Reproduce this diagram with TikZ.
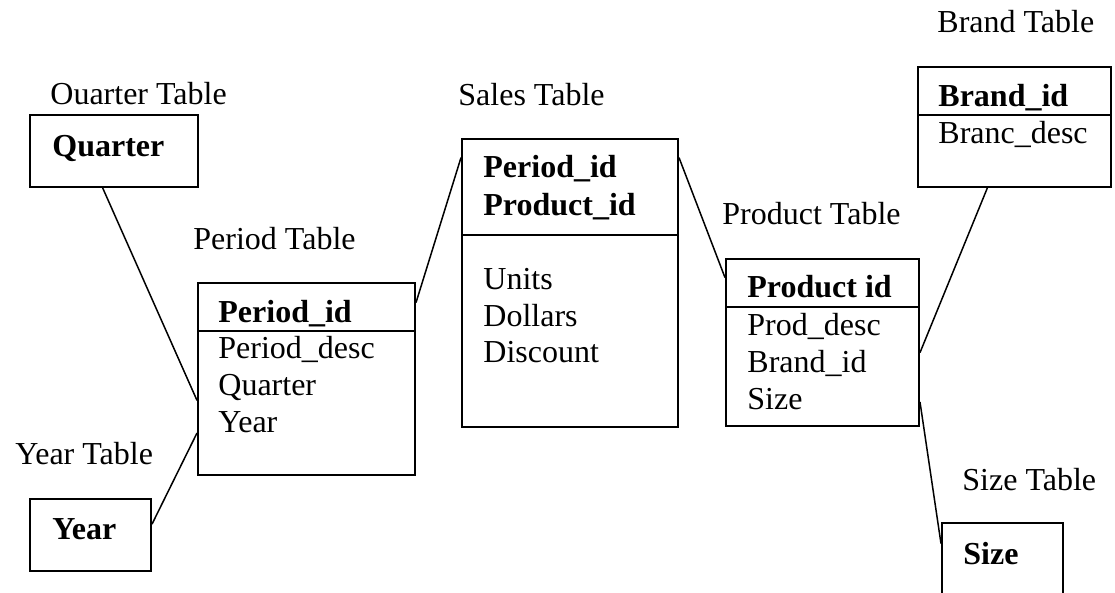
\documentclass[tikz,border=0pt]{standalone}
\usepackage{fontspec}
\setmainfont{Liberation Serif}
\tikzset{
	tbl/.style={draw, line width=1pt, inner sep=0pt},
	row/.style={anchor=west, inner sep=0pt, text height=10pt, text depth=2pt, font=\fontsize{16}{18}\selectfont},
	keyrow/.style={row, font=\fontsize{16}{18}\selectfont\bfseries},
	link/.style={line width=0.75pt}
}
\begin{document}
\begin{tikzpicture}[x=0.5pt, y=-0.5pt]
		\useasboundingbox (0, 0) rectangle (1115, 593);
		\clip (0, 0) rectangle (1115, 593);
		
		\node[tbl, minimum width=84pt, minimum height=36pt] (quarter) at (114, 151) {};
		\node[tbl, minimum width=108.5pt, minimum height=96pt] (period) at (306.5, 379) {};
		\node[tbl, minimum width=108pt, minimum height=144pt] (sales) at (570, 283) {};
		\node[tbl, minimum width=96.5pt, minimum height=83.5pt] (product) at (822.5, 342.5) {};
		\node[tbl, minimum width=96.5pt, minimum height=60pt] (brand) at (1014.5, 127) {};
		\node[tbl, minimum width=60.5pt, minimum height=36pt] (year) at (90.5, 535) {};
		\node[tbl, minimum width=60.5pt, minimum height=40pt] (size) at (1002.5, 563) {};
		
		\draw[line width=1pt] (period.west |- 0, 331) -- (period.east |- 0, 331);
		\draw[line width=1pt] (sales.west |- 0, 235) -- (sales.east |- 0, 235);
		\draw[line width=1pt] (product.west |- 0, 307) -- (product.east |- 0, 307);
		\draw[line width=1pt] (brand.west |- 0, 115) -- (brand.east |- 0, 115);
		
		\node[row] (quarter-label) at (50, 97) {Ouarter Table};
		\node[row] (period-label) at (193, 242) {Period Table};
		\node[row] (sales-label) at (458, 98) {Sales Table};
		\node[row] (product-label) at (722, 217) {Product Table};
		\node[row] (brand-label) at (937, 25) {Brand Table};
		\node[row] (year-label) at (15, 457) {Year Table};
		\node[row] (size-label) at (962, 482) {Size Table};
		
		\node[keyrow] (quarter-key) at (52, 149) {Quarter};
		\node[keyrow] (period-key) at (218, 315) {Period\_id};
		\node[keyrow] (sales-key1) at (483, 170) {Period\_id};
		\node[keyrow] (sales-key2) at (483, 208) {Product\_id};
		\node[keyrow] (product-key) at (747, 290) {Product id};
		\node[keyrow] (brand-key) at (938, 99) {Brand\_id};
		\node[keyrow] (year-key) at (52, 531) {Year};
		\node[keyrow] (size-key) at (963, 556) {Size};
		
		\foreach \t [count=\i] in {Period\_desc, Quarter, Year} \node[row] (period-\i) at (218, 314+37*\i) {\t};
		\foreach \t [count=\i] in {Units, Dollars, Discount} \node[row] (sales-\i) at (483, 245.5+36.5*\i) {\t};
		\foreach \t [count=\i] in {Prod\_desc, Brand\_id, Size} \node[row] (product-\i) at (747, 291+37*\i) {\t};
		\node[row] (brand-1) at (938, 136) {Branc\_desc};
		
		\draw[link] (quarter.-107) -- (period.west |- period-2.south);
		\draw[link] (year.10) -- (period.west |- period-3.base);
		\draw[link] (period.east |- period-key.north) -- (sales.west |- sales-key1.north);
		\draw[link] (sales.east |- sales-key1.north) -- (product.west |- product-key.north);
		\draw[link] (product.east |- product-2.north) -- (brand.-114);
		\draw[link] (product.east |- product-3.center) -- (size.west |- size-key.north);
		\end{tikzpicture}
\end{document}
